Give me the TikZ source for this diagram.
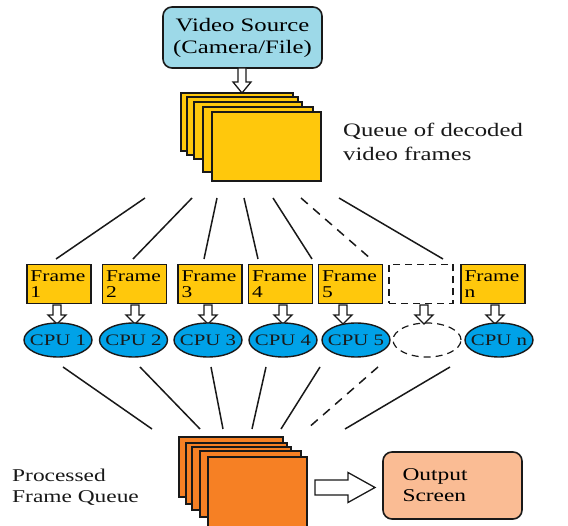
\documentclass[tikz,border=0pt]{standalone}
\usepackage{fontspec}
\setmainfont{Liberation Serif}[FakeStretch=1.3]
\usetikzlibrary{shapes.geometric}
\definecolor{srcblue}{RGB}{157,217,232}
\definecolor{frameyel}{RGB}{255,200,12}
\definecolor{cpublue}{RGB}{0,162,232}
\definecolor{procor}{RGB}{246,128,36}
\definecolor{outor}{RGB}{250,188,148}
\definecolor{ink}{RGB}{25,25,25}
\tikzset{
  sheet/.style={draw=ink, line width=1.6pt},
  framebox/.style={draw=ink, line width=1.4pt, fill=frameyel, minimum width=64pt, minimum height=39pt,
    inner sep=0pt, text width=57pt, align=left, font=\fontsize{16.5}{16.5}\selectfont},
  ghostbox/.style={draw=ink, line width=1.2pt, dash pattern=on 7pt off 5pt, minimum width=64pt, minimum height=39pt},
  cpu/.style={ellipse, draw=ink, line width=1.4pt, fill=cpublue, minimum width=68pt, minimum height=34pt, inner sep=0pt},
  cputext/.style={inner sep=0pt, text=ink, font=\fontsize{16}{18}\selectfont},
  ghostcpu/.style={ellipse, draw=ink, line width=1.2pt, dash pattern=on 7pt off 5pt, minimum width=68pt, minimum height=34pt, inner sep=0pt},
  link/.style={draw=ink, line width=1.5pt},
  ghostlink/.style={draw=ink, line width=1.5pt, dash pattern=on 9pt off 7pt},
  hollow/.style={draw=ink, line width=1.3pt, fill=white, line join=miter},
  label/.style={inner sep=0pt, align=left, text=ink, font=\fontsize{19}{24}\selectfont},
}
\newcommand{\hdown}[4]{% x, ytop, length, headlength
  \draw[hollow] (#1-4,#2) -- (#1-4,#2+#3-#4) -- (#1-9,#2+#3-#4) -- (#1,#2+#3) -- (#1+9,#2+#3-#4)
    -- (#1+4,#2+#3-#4) -- (#1+4,#2) -- cycle;}
\begin{document}
\begin{tikzpicture}[x=1pt,y=-1pt]
\useasboundingbox (0,0) rectangle (568,526);
\fill[white] (0,0) rectangle (568,526);

% video source
\node[draw=ink, line width=1.6pt, fill=srcblue, rounded corners=9pt, minimum width=159pt, minimum height=61pt,
  align=center, inner sep=0pt, font=\fontsize{19}{22}\selectfont] (src) at (242.5,37.5) {Video Source\\(Camera/File)};
\hdown{242}{68}{25}{11}

% decoded frames stack
\draw[sheet, fill=frameyel] (181,93) rectangle (293,151);
\draw[sheet, fill=frameyel] (187,97) rectangle (298,155);
\draw[sheet, fill=frameyel] (194,102) rectangle (302,159);
\draw[sheet, fill=frameyel] (203,107) rectangle (313,172);
\node[sheet, fill=frameyel, minimum width=109pt, minimum height=69pt, inner sep=0pt] (queue) at (266.5,146.5) {};
\node[label, anchor=west] (qlabel) at (343,142) {Queue of decoded\\video frames};

% frames
\node[framebox] (f1) at (59,284) {Frame\\1};
\node[framebox] (f2) at (134.5,284) {Frame\\2};
\node[framebox] (f3) at (210,284) {Frame\\3};
\node[framebox] (f4) at (280.5,284) {Frame\\4};
\node[framebox] (f5) at (350.5,284) {Frame\\5};
\node[ghostbox] (f6) at (421,284) {};
\node[framebox] (fn) at (493,284) {Frame\\n};

% links queue -> frames
\foreach \i/\xa/\xb in {1/145/56, 2/192/133, 3/217/204, 4/244/258, 5/273/312, 6/301/371, 7/339/443}{
  \coordinate (qa\i) at (\xa,198);
  \coordinate (qb\i) at (\xb,259);
}
\foreach \i in {1,2,3,4,5,7} \draw[link] (qa\i) -- (qb\i);
\draw[ghostlink] (qa6) -- (qb6);

% arrows frame -> cpu
\foreach \x in {57,135,208,283,343,424,495} { \hdown{\x}{305}{19}{9} }

% cpus
\node[cpu] (c1) at (58,340) {};
\node[cpu] (c2) at (133.5,340) {};
\node[cpu] (c3) at (208,340) {};
\node[cpu] (c4) at (283,340) {};
\node[cpu] (c5) at (356,340) {};
\node[ghostcpu] (c6) at (427,340) {};
\node[cpu] (cn) at (499,340) {};
\node[cputext] (t1) at (c1.center) {CPU 1};
\node[cputext] (t2) at (c2.center) {CPU 2};
\node[cputext] (t3) at (c3.center) {CPU 3};
\node[cputext] (t4) at (c4.center) {CPU 4};
\node[cputext] (t5) at (c5.center) {CPU 5};
\node[cputext] (tn) at (cn.center) {CPU n};

% links cpu -> processed queue
\foreach \i/\xa/\xb in {1/63/152, 2/140/200, 3/211/223, 4/266/252, 5/320/281, 6/378/307, 7/450/345}{
  \coordinate (pa\i) at (\xa,367);
  \coordinate (pb\i) at (\xb,429);
}
\foreach \i in {1,2,3,4,5,7} \draw[link] (pa\i) -- (pb\i);
\draw[ghostlink] (pa6) -- (pb6);

% processed stack
\draw[sheet, fill=procor] (179,437) rectangle (283,497);
\draw[sheet, fill=procor] (186,443) rectangle (287,504);
\draw[sheet, fill=procor] (192,447) rectangle (291,510);
\draw[sheet, fill=procor] (200,451) rectangle (301,517);
\node[sheet, fill=procor, minimum width=99pt, minimum height=75pt, inner sep=0pt] (pq) at (257.5,494.5) {};
\node[label, anchor=west, font=\fontsize{18}{21}\selectfont] (plabel) at (12,487) {Processed\\Frame Queue};

% output
\node[draw=ink, line width=1.6pt, fill=outor, rounded corners=9pt, minimum width=139pt, minimum height=67pt,
  text width=100pt, align=left, inner sep=0pt, font=\fontsize{18}{21}\selectfont] (out) at (452.5,485.5) {Output\\Screen};
\draw[hollow] (315,480) -- (348,480) -- (348,472.5) -- (375,487.5) -- (348,502.5) -- (348,495) -- (315,495) -- cycle;
\end{tikzpicture}
\end{document}
